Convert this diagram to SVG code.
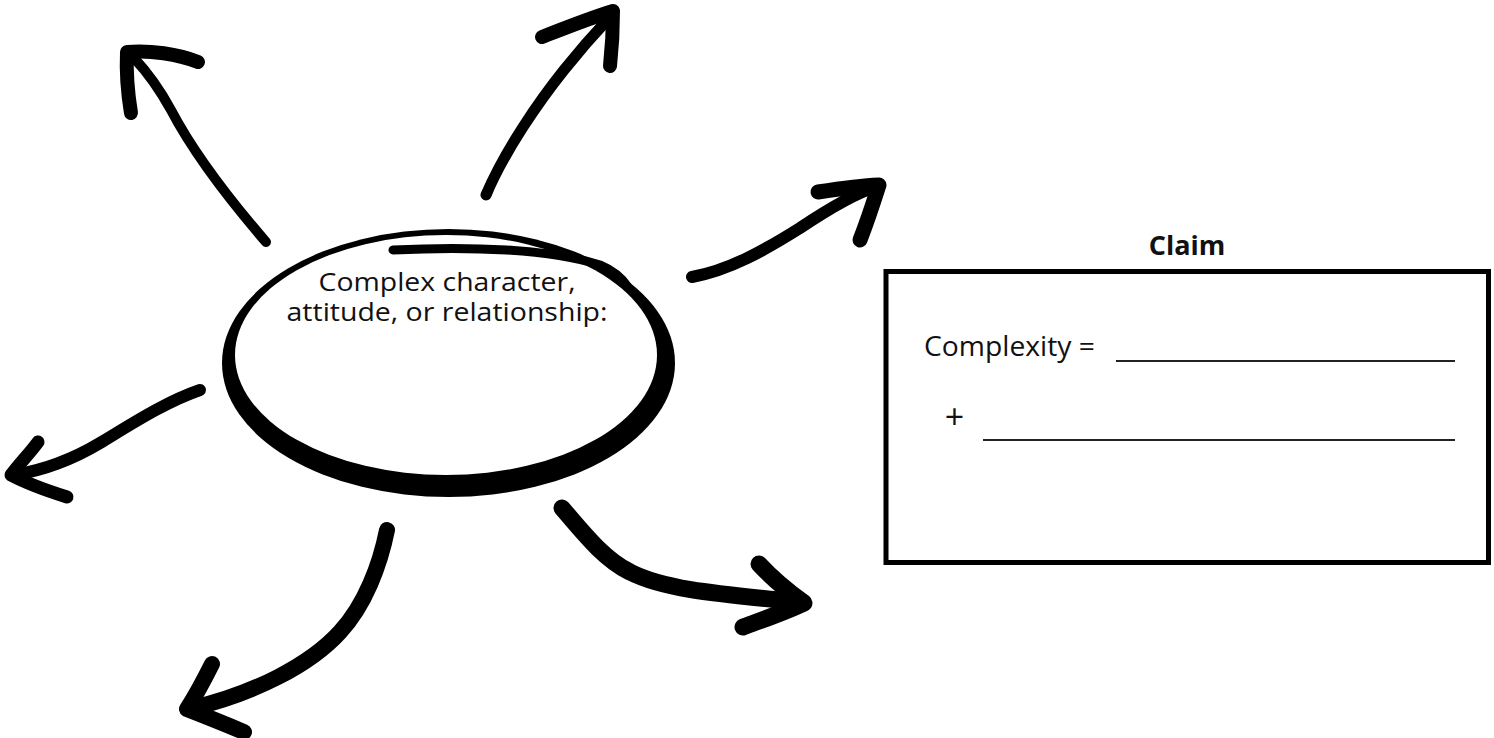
<svg xmlns="http://www.w3.org/2000/svg" width="1494" height="738" viewBox="0 0 1494 738">
<style>
.shaft{fill:none;stroke:#000;stroke-linecap:round;stroke-linejoin:round}
.head{fill:none;stroke:#000;stroke-linecap:round;stroke-linejoin:round}
.t{font-family:"Open Sans","Liberation Sans",sans-serif;fill:#111;font-size:27px}
.rule{stroke:#222;stroke-width:2}
</style>
<rect width="1494" height="738" fill="#fff"/>
<g id="connectors">
  <g id="arrow-top-left">
    <path class="shaft" stroke-width="10" d="M266,242 C228,198 192,150 171,110 C160,90 150,75 134,58"/>
    <path class="head" stroke-width="14" d="M198,62 C178,54 150,50 127,52 C126,75 128,95 131,113"/>
  </g>
  <g id="arrow-top">
    <path class="shaft" stroke-width="11" d="M486,195 C505,150 540,100 564,70 C580,50 595,33 610,17"/>
    <path class="head" stroke-width="14" d="M542,37 C565,28 590,18 613,11 C613,30 612,48 610,66"/>
  </g>
  <g id="arrow-right">
    <path class="shaft" stroke-width="12" d="M692,277 C730,270 765,250 800,228 C830,208 855,193 876,187"/>
    <path class="head" stroke-width="15" d="M818,192 C838,189 858,186 879,185 C873,204 867,222 860,240"/>
  </g>
  <g id="arrow-bottom-right">
    <path class="shaft" stroke-width="17" d="M562,508 C585,535 605,560 630,572 C665,590 720,594 800,602"/>
    <path class="head" stroke-width="17" d="M759,564 C772,578 786,590 804,603 C785,612 762,620 743,627"/>
  </g>
  <g id="arrow-bottom">
    <path class="shaft" stroke-width="16" d="M387,530 C380,565 365,605 340,632 C310,665 255,693 193,708"/>
    <path class="head" stroke-width="16" d="M212,664 C204,680 196,695 187,709 C205,716 225,724 244,732"/>
  </g>
  <g id="arrow-left">
    <path class="shaft" stroke-width="12" d="M200,390 C165,402 130,425 100,443 C75,458 45,470 14,475"/>
    <path class="head" stroke-width="13" d="M38,442 C30,453 20,463 11,475 C28,484 48,491 67,497"/>
  </g>
</g>
<g id="center-node">
  <ellipse cx="448.5" cy="363" rx="226.5" ry="134" fill="#000"/>
  <ellipse cx="446" cy="355" rx="211" ry="120" fill="#fff"/>
  <path class="shaft" stroke-width="9" d="M393,250 C470,246 550,249 600,265 C612,270 622,278 628,287"/>
  <text class="t" x="447" y="291" text-anchor="middle" textLength="257" lengthAdjust="spacingAndGlyphs" style="font-size:26px">Complex character,</text>
  <text class="t" x="447" y="321" text-anchor="middle" textLength="321" lengthAdjust="spacingAndGlyphs" style="font-size:26px">attitude, or relationship:</text>
</g>
<g id="claim-node">
  <text class="t" x="1187" y="255" text-anchor="middle" font-weight="bold" font-size="28">Claim</text>
  <rect x="886" y="271.5" width="602.5" height="291" fill="none" stroke="#000" stroke-width="5"/>
  <text class="t" x="924" y="356" textLength="171" lengthAdjust="spacingAndGlyphs">Complexity =</text>
  <line class="rule" x1="1116" y1="361" x2="1455" y2="361"/>
  <text class="t" x="954.5" y="429" text-anchor="middle" style="font-size:34px">+</text>
  <line class="rule" x1="983" y1="440" x2="1455" y2="440"/>
</g>
</svg>
